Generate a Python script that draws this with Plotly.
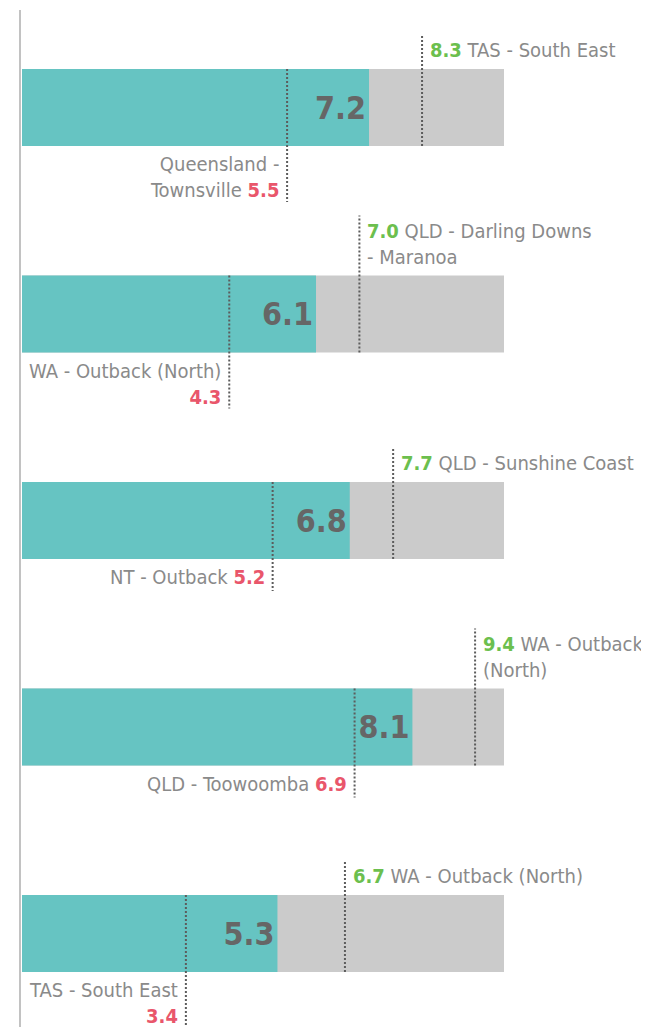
import plotly.graph_objects as go

# ---- data ----
values = [7.2, 6.1, 6.8, 8.1, 5.3]
scale_max = [10, 10, 10, 10, 10]
max_values = [8.3, 7.0, 7.7, 9.4, 6.7]
max_names = ["TAS - South East", "QLD - Darling Downs\n- Maranoa", "QLD - Sunshine Coast",
             "WA - Outback\n(North)", "WA - Outback (North)"]
min_values = [5.5, 4.3, 5.2, 6.9, 3.4]
min_names = ["Queensland -\nTownsville", "WA - Outback (North)\n", "NT - Outback",
             "QLD - Toowoomba", "TAS - South East\n"]

# ---- style ----
PAGE = 8                      # browser body margin
W, H = 649 - PAGE, 1027 - PAGE
X0PX, XPU = 22 - PAGE, 48.2   # pixel of zero, pixels per unit
Y0PX, YPU = 107.5 - PAGE, 206.5
BW = 77 / YPU                 # bar thickness in row units
TEAL, GREY = "#66c4c2", "#cbcbcb"
GREEN, RED = "#6cbf4e", "#e9566b"
TXT, VAL, DOT = "#8a8a8a", "#666666", "#5c5c5c"
FONT = "Liberation Sans Narrow, DejaVu Sans Condensed, Arial Narrow, sans-serif"

idx = list(range(len(values)))

fig = go.Figure()
fig.add_trace(go.Bar(y=idx, x=scale_max, orientation="h", width=BW,
                     marker=dict(color=GREY, line=dict(width=0)), hoverinfo="skip"))
fig.add_trace(go.Bar(y=idx, x=values, orientation="h", width=BW,
                     marker=dict(color=TEAL, line=dict(width=0)),
                     texttemplate="<b>%{x:.1f}</b>", textposition="inside",
                     insidetextanchor="end", constraintext="none",
                     textfont=dict(family=FONT, size=32, color=VAL)))

shapes = []
annotations = []
# vertical axis line
shapes.append(dict(type="line", xref="x", yref="paper", x0=-2 / XPU, x1=-2 / XPU,
                   y0=0, y1=1 - 2 / H, line=dict(color="#c2c2c2", width=2)))

for i in idx:
    top = i - BW / 2
    bot = i + BW / 2
    # max marker
    mlines = max_names[i].split("\n")
    ntop = len(mlines)
    shapes.append(dict(type="line", xref="x", yref="y", x0=max_values[i], x1=max_values[i],
                       y0=bot, y1=top - (10 + 25 * ntop) / YPU,
                       line=dict(color=DOT, width=2, dash="2px,2px")))
    txt = f"<b><span style='color:{GREEN}'>{max_values[i]:.1f}</span></b> " + "<br>".join(mlines)
    annotations.append(dict(x=max_values[i], y=top, xref="x", yref="y", text=txt,
                            showarrow=False, xanchor="left", yanchor="bottom", align="left",
                            xshift=6, yshift=5, font=dict(family=FONT, size=20, color=TXT)))
    # min marker
    nlines = min_names[i].split("\n")
    nb = len(nlines)
    shapes.append(dict(type="line", xref="x", yref="y", x0=min_values[i], x1=min_values[i],
                       y0=top, y1=bot + (8 + 24 * nb) / YPU,
                       line=dict(color=DOT, width=2, dash="2px,2px")))
    num = f"<b><span style='color:{RED}'>{min_values[i]:.1f}</span></b>"
    if nlines[-1] == "":
        body = "<br>".join(nlines[:-1]) + "<br>" + num
    else:
        body = "<br>".join(nlines[:-1] + [nlines[-1] + " " + num])
    annotations.append(dict(x=min_values[i], y=bot, xref="x", yref="y", text=body,
                            showarrow=False, xanchor="right", yanchor="top", align="right",
                            xshift=-6, yshift=-4, font=dict(family=FONT, size=20, color=TXT)))

fig.update_layout(
    width=W, height=H, margin=dict(l=0, r=0, t=0, b=0),
    paper_bgcolor="white", plot_bgcolor="white",
    barmode="overlay", showlegend=False,
    xaxis=dict(range=[-X0PX / XPU, (W - X0PX) / XPU], visible=False, fixedrange=True),
    yaxis=dict(range=[(H - Y0PX) / YPU, -Y0PX / YPU], visible=False, fixedrange=True),
    shapes=shapes, annotations=annotations, font=dict(family=FONT),
)

fig.write_html("out.html")
